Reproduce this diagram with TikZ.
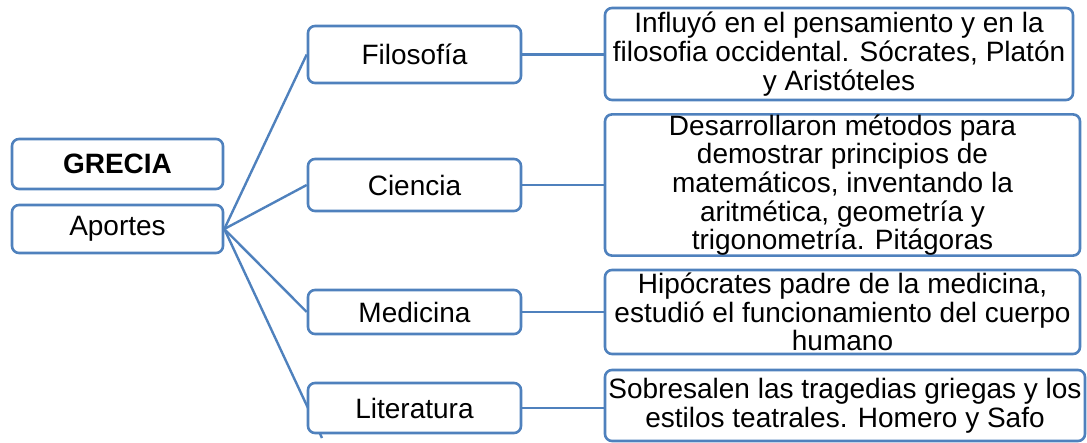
\documentclass[tikz,border=0pt]{standalone}
\usepackage{fontspec}
\setmainfont{Liberation Sans}
\usetikzlibrary{backgrounds}
\definecolor{boxblue}{HTML}{4F81BD}
\begin{document}
\begin{tikzpicture}[x=1pt,y=-1pt,
  box/.style={draw=boxblue,line width=2.6pt,rounded corners=7pt,fill=white,
    inner sep=0pt,align=center,font=\fontsize{28}{28.7}\selectfont},
  link/.style={draw=boxblue,line width=2.4pt}]
\useasboundingbox (0,0) rectangle (1087,443);
\node[box,minimum width=211pt,minimum height=50pt] (gr) at (117.5,164) {\textbf{GRECIA}};
\node[box,minimum width=211pt,minimum height=48pt] (ap) at (117.5,229) {Aportes};
\node[box,minimum width=213pt,minimum height=57pt] (fil) at (414.5,54.5) {Filosofía};
\node[box,minimum width=213pt,minimum height=52pt] (cie) at (414.5,185) {Ciencia};
\node[box,minimum width=213pt,minimum height=44pt] (med) at (414.5,312) {Medicina};
\node[box,minimum width=213pt,minimum height=50pt] (lit) at (414.5,408) {Literatura};
\node[box,minimum width=468pt,minimum height=92pt] (r1) at (839,54) {Influyó en el pensamiento y en la\\filosofia occidental. Sócrates, Platón\\y Aristóteles};
\node[box,minimum width=475pt,minimum height=136pt] (r2) at (842.5,185) {Desarrollaron métodos para\\demostrar principios de\\matemáticos, inventando la\\aritmética, geometría y\\trigonometría. Pitágoras};
\node[box,minimum width=475pt,minimum height=84pt] (r3) at (842.5,312) {Hipócrates padre de la medicina,\\estudió el funcionamiento del cuerpo\\humano};
\node[box,minimum width=480pt,minimum height=71pt] (r4) at (845,405.5) {Sobresalen las tragedias griegas y los\\estilos teatrales. Homero y Safo};
\coordinate (tail) at (322,438);
\begin{pgfonlayer}{background}
\draw[link] (ap.east) -- (fil.west);
\draw[link] (ap.east) -- (cie.west);
\draw[link] (ap.east) -- (med.west);
\draw[link] (ap.east) -- (tail);
\draw[link] (fil.east) -- (fil.east -| r1.west);
\draw[link] (cie.east) -- (cie.east -| r2.west);
\draw[link] (med.east) -- (med.east -| r3.west);
\draw[link] (lit.east) -- (lit.east -| r4.west);
\end{pgfonlayer}
\end{tikzpicture}
\end{document}
